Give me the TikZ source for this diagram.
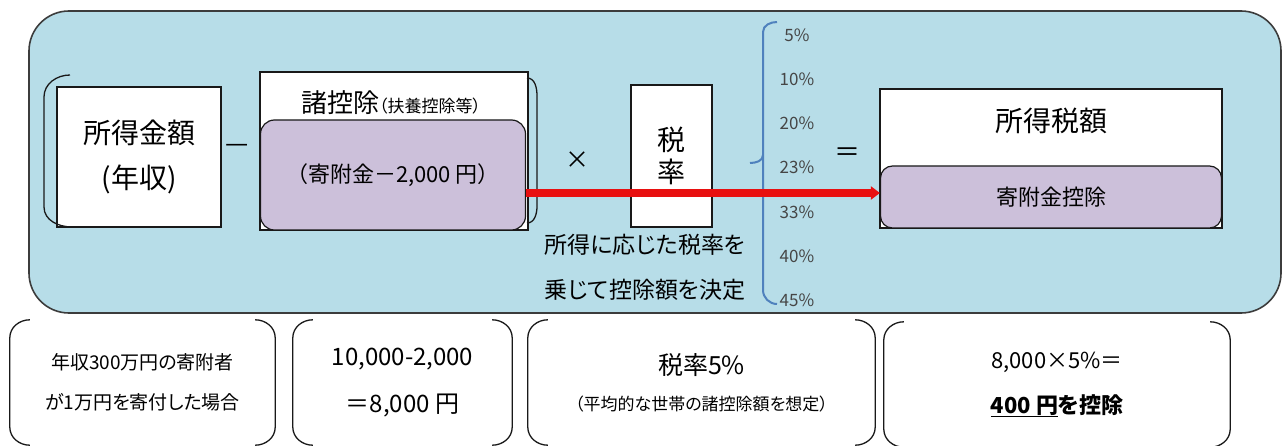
\documentclass[tikz,border=0pt]{standalone}
\usepackage{fontspec}
\setmainfont{Noto Sans CJK JP}[RawFeature=+palt]
\usepackage{tikz}
\usetikzlibrary{arrows.meta}
\definecolor{panelblue}{RGB}{183,221,232}
\definecolor{panelline}{RGB}{60,60,60}
\definecolor{lavender}{RGB}{204,192,218}
\definecolor{lineblack}{RGB}{25,25,25}
\definecolor{bracketblue}{RGB}{79,129,189}
\definecolor{arrowred}{RGB}{232,16,16}
\definecolor{rategray}{RGB}{70,70,70}
\newcommand\jfs[2]{\fontsize{#1pt}{#2pt}\selectfont}

\tikzset{
    whitebox/.style={draw=lineblack, line width=1.2pt, fill=white, inner sep=0pt},
    lavbox/.style={draw=lineblack, line width=1.2pt, fill=lavender, rounded corners=14pt, inner sep=0pt},
    paren/.style={draw=lineblack, line width=1.3pt},
    rateline/.style={draw=bracketblue, line width=2pt},
    redarrow/.style={draw=arrowred, line width=8pt, -{Triangle[length=9pt,width=13pt]}},
    rate/.style={text=rategray, font=\jfs{17}{17}},
    example/.style={minimum height=125pt, align=center, inner sep=0pt},
}

\begin{document}
\begin{tikzpicture}[x=1pt,y=-1pt]
        \useasboundingbox (0,0) rectangle (1282,446);
        \draw[draw=panelline, line width=1.6pt, fill=panelblue, rounded corners=40pt] (29,11) rectangle (1281,313);

        % income minus deductions
        \node[whitebox, minimum width=164pt, minimum height=140pt, align=center, font=\jfs{28}{45}] (shotoku) at (139,157) {所得金額\\(年収)};
        \draw[paren] (70,75) to[out=180,in=90] (44,97) -- (44,207) to[out=-90,in=180] (72,227);
        \node[font=\jfs{26}{26}] (minus) at (237,148) {—};
        \node[whitebox, minimum width=268pt, minimum height=158pt] (kojo) at (394,151) {};
        \node[lavbox, minimum width=265pt, minimum height=110pt, font=\jfs{22}{22}] (kifu) at (393,175) {（寄附金－2,000 円）};
        \node[font=\jfs{26}{26}] (kojolabel) at (391,103) {諸控除{\jfs{17}{17}（扶養控除等）}};
        \draw[paren] (527,78) to[out=0,in=90] (537,96) -- (537,206) to[out=-90,in=0] (527,223);

        % tax rate
        \node[font=\jfs{24}{24}] (times) at (577,160) {×};
        \node[whitebox, minimum width=81pt, minimum height=142pt, align=center, font=\jfs{28}{32}] (zeiritsu) at (671.5,156) {税\\率};
        \node[align=center, font=\jfs{23}{45}] (note) at (645,267) {所得に応じた税率を\\乗じて控除額を決定};
        \draw[rateline] (777,22) to[out=180,in=90] (763,32) -- (763,290) to[out=-90,in=180] (777,304);
        \draw[rateline] (763,155) to[out=-90,in=0] (750,163);
        \foreach \r [count=\i] in {5,10,20,23,33,40,45}
            \node[rate] (rate\r) at (797,{35+44.2*(\i-1)}) {\r\%};
        \node[font=\jfs{26}{26}] (equals) at (847,155) {＝};

        % income tax
        \node[whitebox, minimum width=342pt, minimum height=139pt] (zeigaku) at (1051,158.5) {};
        \node[lavbox, rounded corners=12pt, minimum width=341pt, minimum height=62pt, font=\jfs{22}{22}] (kifukojo) at (1051,197) {寄附金控除};
        \node[font=\jfs{28}{28}] (zeigakulabel) at (1051,121) {所得税額};

        \coordinate (arrS) at ([yshift=-18pt]kifu.east);
        \draw[redarrow] (arrS) -- (arrS -| kifukojo.west);

        % worked example
        \node[example, minimum width=265pt, font=\jfs{19}{40}] (case1) at (142.5,382.5) {年収300万円の寄附者\\が1万円を寄付した場合};
        \node[example, minimum width=219pt, font=\jfs{24}{47}] (case2) at (402.5,382.5) {10,000-2,000\\＝8,000 円};
        \node[example, minimum width=347pt, font=\jfs{17}{36}] (case3) at (701.5,382.5) {{\jfs{25}{36}税率5\%}\\（平均的な世帯の諸控除額を想定）};
        \node[example, minimum width=346pt, font=\jfs{22}{45}] (case4) at (1057,384.5) {8,000×5\%＝\\\textbf{\underline{400 円}を控除}};
        \foreach \n in {case1,case2,case3,case4} {
            \draw[paren] ([xshift=20pt]\n.north west) to[out=180,in=90] ([yshift=-18pt]\n.north west) -- ([yshift=18pt]\n.south west) to[out=-90,in=180] ([xshift=20pt]\n.south west);
            \draw[paren] ([xshift=-20pt]\n.north east) to[out=0,in=90] ([yshift=-18pt]\n.north east) -- ([yshift=18pt]\n.south east) to[out=-90,in=0] ([xshift=-20pt]\n.south east);
        }
\end{tikzpicture}
\end{document}
